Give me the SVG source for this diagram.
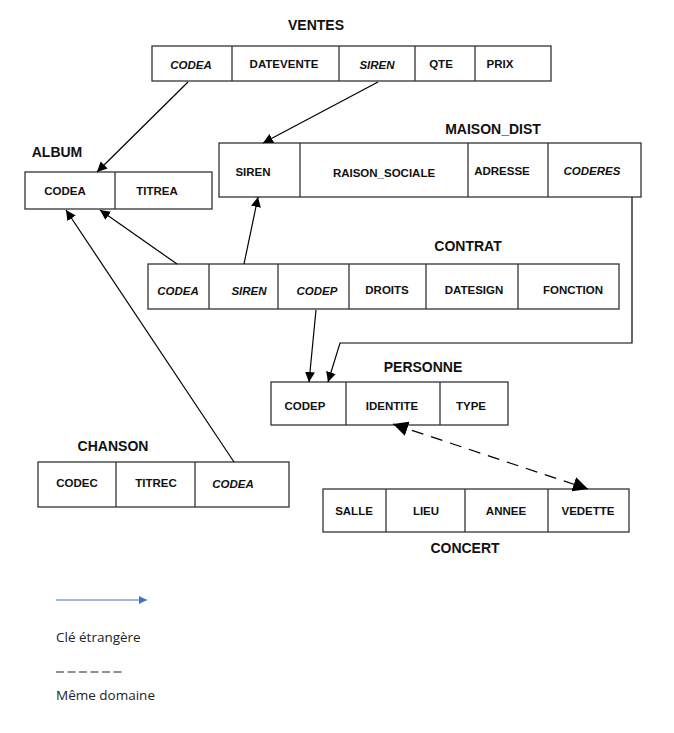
<svg xmlns="http://www.w3.org/2000/svg" width="674" height="733" viewBox="0 0 674 733">
<defs>
<marker id="ah" viewBox="0 0 10 10" refX="10" refY="5" markerWidth="10" markerHeight="10" markerUnits="userSpaceOnUse" orient="auto-start-reverse">
<path d="M0,0 L10,5 L0,10 z" fill="#000"/>
</marker>
<marker id="ahb" viewBox="0 0 10 10" refX="10" refY="5" markerWidth="8" markerHeight="8" markerUnits="userSpaceOnUse" orient="auto">
<path d="M0,0 L10,5 L0,10 z" fill="#4472C4"/>
</marker>
<marker id="ahd" viewBox="0 0 10 10" refX="10" refY="5" markerWidth="15" markerHeight="15" markerUnits="userSpaceOnUse" orient="auto-start-reverse">
<path d="M0,0 L10,5 L0,10 z" fill="#000"/>
</marker>
</defs>
<style>
rect{fill:#fff;stroke:#333;stroke-width:1.3}
.d{stroke:#333;stroke-width:1.3}
text{font-family:"Liberation Sans",Arial,sans-serif;fill:#111}
.t{font-size:14px;font-weight:bold;text-anchor:middle}
.f{font-size:11.5px;font-weight:bold;text-anchor:middle}
.i{font-style:italic}
.c{fill:none;stroke:#000;stroke-width:1.2}
.lg{font-family:"Open Sans","Liberation Sans",sans-serif;font-size:13.5px;fill:#222}
</style>
<rect x="0" y="0" width="674" height="733" style="fill:#fff;stroke:none"/>

<g id="ventes">
<text class="t" x="316" y="30">VENTES</text>
<rect x="152" y="46" width="399" height="35"/>
<line class="d" x1="232" y1="46" x2="232" y2="81"/>
<line class="d" x1="339" y1="46" x2="339" y2="81"/>
<line class="d" x1="415" y1="46" x2="415" y2="81"/>
<line class="d" x1="475" y1="46" x2="475" y2="81"/>
<text class="f i" x="191" y="69">CODEA</text>
<text class="f" x="284" y="68">DATEVENTE</text>
<text class="f i" x="377" y="69">SIREN</text>
<text class="f" x="441" y="68">QTE</text>
<text class="f" x="500" y="68">PRIX</text>
</g>

<g id="album">
<text class="t" x="57" y="157">ALBUM</text>
<rect x="25" y="172" width="187" height="37"/>
<line class="d" x1="115" y1="172" x2="115" y2="209"/>
<text class="f" x="65" y="195">CODEA</text>
<text class="f" x="157" y="195">TITREA</text>
</g>

<g id="maison_dist">
<text class="t" x="493" y="134">MAISON_DIST</text>
<rect x="219" y="143" width="422" height="54"/>
<line class="d" x1="300" y1="143" x2="300" y2="197"/>
<line class="d" x1="468" y1="143" x2="468" y2="197"/>
<line class="d" x1="548" y1="143" x2="548" y2="197"/>
<text class="f" x="253" y="176">SIREN</text>
<text class="f" x="384" y="177">RAISON_SOCIALE</text>
<text class="f" x="502" y="175">ADRESSE</text>
<text class="f i" x="592" y="175">CODERES</text>
</g>

<g id="contrat">
<text class="t" x="468" y="251">CONTRAT</text>
<rect x="148" y="264" width="471" height="45"/>
<line class="d" x1="209" y1="264" x2="209" y2="309"/>
<line class="d" x1="278" y1="264" x2="278" y2="309"/>
<line class="d" x1="349" y1="264" x2="349" y2="309"/>
<line class="d" x1="426" y1="264" x2="426" y2="309"/>
<line class="d" x1="518" y1="264" x2="518" y2="309"/>
<text class="f i" x="178" y="295">CODEA</text>
<text class="f i" x="249" y="295">SIREN</text>
<text class="f i" x="317" y="295">CODEP</text>
<text class="f" x="387" y="294">DROITS</text>
<text class="f" x="474" y="294">DATESIGN</text>
<text class="f" x="573" y="294">FONCTION</text>
</g>

<g id="personne">
<text class="t" x="423" y="372">PERSONNE</text>
<rect x="271" y="382" width="237" height="43"/>
<line class="d" x1="346" y1="382" x2="346" y2="425"/>
<line class="d" x1="440" y1="382" x2="440" y2="425"/>
<text class="f" x="305" y="410">CODEP</text>
<text class="f" x="392" y="410">IDENTITE</text>
<text class="f" x="471" y="410">TYPE</text>
</g>

<g id="chanson">
<text class="t" x="113" y="451">CHANSON</text>
<rect x="38" y="462" width="251" height="45"/>
<line class="d" x1="116" y1="462" x2="116" y2="507"/>
<line class="d" x1="195" y1="462" x2="195" y2="507"/>
<text class="f" x="77" y="487">CODEC</text>
<text class="f" x="156" y="487">TITREC</text>
<text class="f i" x="233" y="488">CODEA</text>
</g>

<g id="concert">
<rect x="323" y="489" width="306" height="43"/>
<line class="d" x1="386" y1="489" x2="386" y2="532"/>
<line class="d" x1="465" y1="489" x2="465" y2="532"/>
<line class="d" x1="548" y1="489" x2="548" y2="532"/>
<text class="f" x="354" y="515">SALLE</text>
<text class="f" x="426" y="515">LIEU</text>
<text class="f" x="506" y="515">ANNEE</text>
<text class="f" x="588" y="515">VEDETTE</text>
<text class="t" x="465" y="553">CONCERT</text>
</g>

<g id="connectors">
<line class="c" x1="188" y1="82" x2="97" y2="172" marker-end="url(#ah)"/>
<line class="c" x1="378" y1="82" x2="263" y2="143" marker-end="url(#ah)"/>
<line class="c" x1="177" y1="264" x2="100" y2="210" marker-end="url(#ah)"/>
<line class="c" x1="244" y1="264" x2="258" y2="197" marker-end="url(#ah)"/>
<line class="c" x1="234" y1="462" x2="66" y2="210" marker-end="url(#ah)"/>
<line class="c" x1="316" y1="310" x2="309" y2="382" marker-end="url(#ah)"/>
<polyline class="c" points="632,197 632,343 340,343 328,382" marker-end="url(#ah)"/>
<line class="c" x1="393" y1="424" x2="588" y2="489" stroke-dasharray="12,8" marker-start="url(#ahd)" marker-end="url(#ahd)"/>
</g>

<g id="legend">
<line x1="56" y1="600" x2="147" y2="600" stroke="#4472C4" stroke-width="1.2" marker-end="url(#ahb)"/>
<text class="lg" x="56" y="642">Clé étrangère</text>
<line x1="56" y1="672" x2="123" y2="672" stroke="#222" stroke-width="1.2" stroke-dasharray="8,3.5"/>
<text class="lg" x="56" y="700">Même domaine</text>
</g>
</svg>
